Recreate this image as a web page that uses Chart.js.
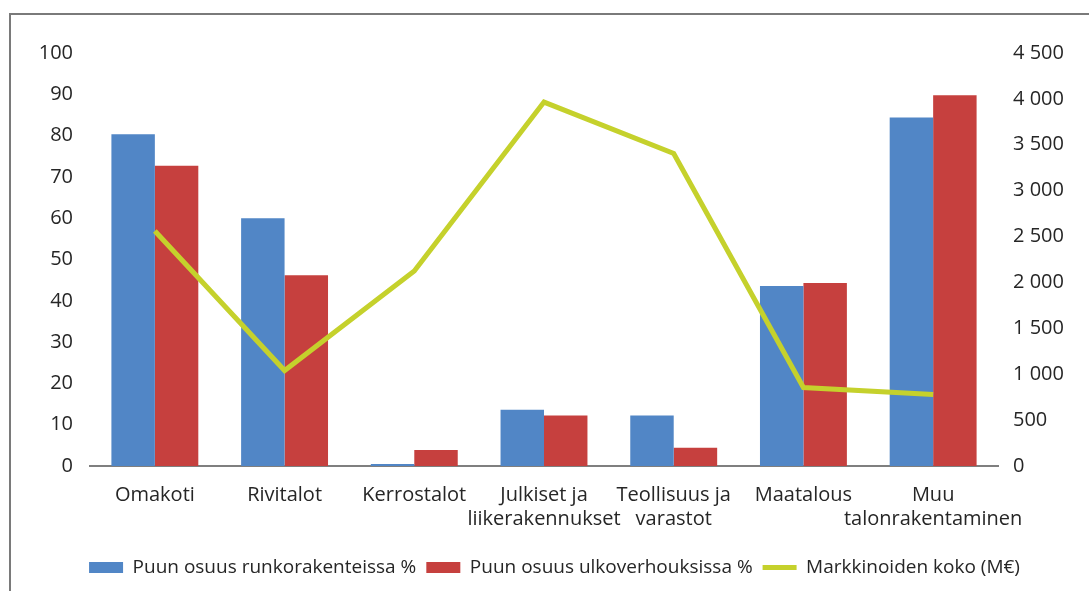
<!DOCTYPE html>
<html>
<head>
<meta charset="utf-8">
<script src="https://cdn.jsdelivr.net/npm/chart.js@4/dist/chart.umd.min.js"></script>
<style>
  html, body { margin: 0; padding: 0; background: #fff; overflow: hidden; }
  #frame { position: absolute; left: 9px; top: 13px; width: 1200px; height: 700px;
           border-left: 2px solid #7a7a7a; border-top: 2px solid #7a7a7a; }
  #wrap { position: absolute; left: 0; top: 0; width: 1089px; height: 591px; }
</style>
</head>
<body>
<div id="frame"></div>
<div id="wrap"><canvas id="chart"></canvas></div>
<script>
// categories (multi-line labels as arrays)
const categories = [
    'Omakoti',
    'Rivitalot',
    'Kerrostalot',
    ['Julkiset ja', 'liikerakennukset'],
    ['Teollisuus ja', 'varastot'],
    'Maatalous',
    ['Muu', 'talonrakentaminen']
];

// wood share in frames, %
const runkoShare = [80.3, 60, 0.5, 13.6, 12.2, 43.6, 84.4];
// wood share in facades, %
const ulkoShare = [72.7, 46.2, 3.9, 12.2, 4.4, 44.3, 89.8];
// market size, M€
const marketSize = [2560, 1040, 2125, 3965, 3405, 855, 780];

const seriesNames = [
    'Puun osuus runkorakenteissa %',
    'Puun osuus ulkoverhouksissa %',
    'Markkinoiden koko (M€)'
];

Chart.defaults.font.family = '"Open Sans", sans-serif';
Chart.defaults.font.size = 20;
Chart.defaults.color = '#262626';

const spaced = v => String(v).replace(/\B(?=(\d{3})+(?!\d))/g, ' ');

var ctx = document.getElementById('chart').getContext('2d');

new Chart(ctx, {
    type: 'bar',
    data: {
        labels: categories,
        datasets: [{
            label: seriesNames[0],
            data: runkoShare,
            backgroundColor: '#5186c6',
            yAxisID: 'y',
            order: 1
        }, {
            label: seriesNames[1],
            data: ulkoShare,
            backgroundColor: '#c6403e',
            yAxisID: 'y',
            order: 1
        }, {
            type: 'line',
            label: seriesNames[2],
            data: marketSize,
            borderColor: '#c5d12c',
            backgroundColor: '#c5d12c',
            borderWidth: 5,
            pointRadius: 0,
            tension: 0,
            fill: false,
            yAxisID: 'y1',
            order: 0
        }]
    },
    options: {
        responsive: true,
        maintainAspectRatio: false,
        animation: false,
        datasets: {
            bar: { categoryPercentage: 0.67, barPercentage: 1.0 }
        },
        layout: {
            padding: { top: 53, bottom: 4, left: 20, right: 0 }
        },
        scales: {
            x: {
                grid: { display: false, drawTicks: false },
                border: { display: true, color: '#7f7f7f', width: 2 },
                ticks: { padding: 17, maxRotation: 0, autoSkip: false, font: { lineHeight: 1.22 } },
                afterFit(scale) { scale.height = 82; }
            },
            y: {
                position: 'left',
                min: 0, max: 100,
                grid: { display: false, drawTicks: false },
                border: { display: false },
                ticks: { stepSize: 10, padding: 17 },
                afterFit(scale) { scale.width = 70; }
            },
            y1: {
                position: 'right',
                min: 0, max: 4500,
                grid: { display: false, drawTicks: false },
                border: { display: false },
                ticks: { stepSize: 500, padding: 15, callback: v => spaced(v) },
                afterFit(scale) { scale.width = 91; }
            }
        },
        plugins: {
            tooltip: { enabled: false },
            legend: {
                position: 'bottom',
                labels: {
                    usePointStyle: true,
                    pointStyleWidth: 34,
                    boxHeight: 11,
                    padding: 10,
                    font: { size: 19 },
                    sort: (a, b) => a.datasetIndex - b.datasetIndex,
                    generateLabels(chart) {
                        const items = Chart.defaults.plugins.legend.labels.generateLabels(chart);
                        items.forEach(it => {
                            it.pointStyle = it.datasetIndex === 2 ? 'line' : 'rect';
                            if (it.datasetIndex !== 2) it.lineWidth = 0;
                        });
                        return items;
                    }
                }
            }
        }
    }
});
</script>
</body>
</html>
